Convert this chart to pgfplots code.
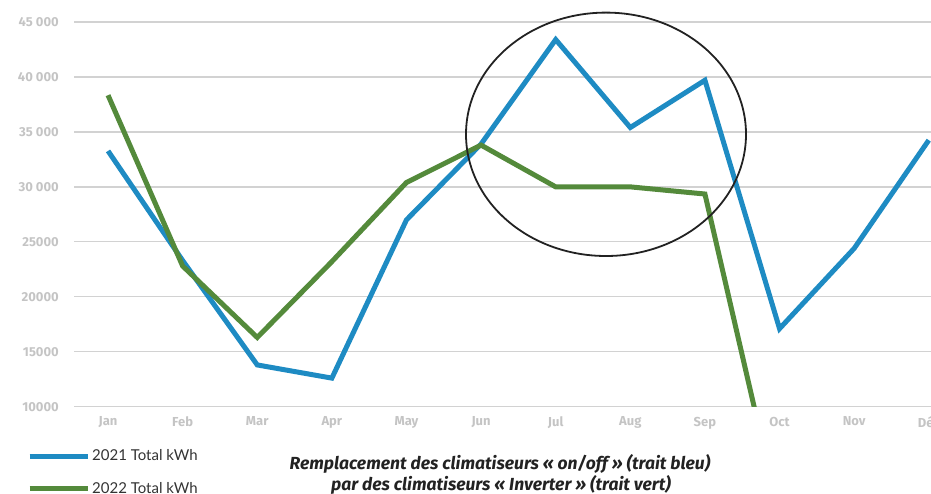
\documentclass[border=0pt]{standalone}
\usepackage{fontspec}
\setmainfont{Fira Sans}
\newfontfamily\legfont{Lato}
\usepackage{pgfplots}
\pgfplotsset{compat=1.18}
\definecolor{cblue}{HTML}{1E8BC3}
\definecolor{cgreen}{HTML}{548A3B}
\definecolor{tickgray}{HTML}{C4C4C4}
\definecolor{gridgray}{HTML}{D2D2D2}
\definecolor{legtext}{HTML}{333333}
\definecolor{captext}{HTML}{222222}
\begin{document}
\begin{tikzpicture}
\useasboundingbox (0pt,0pt) rectangle (931pt,493pt);
\begin{axis}[
  at={(74pt,86.3pt)}, anchor=south west,
  scale only axis, width=857pt, height=384.7pt,
  xmin=-0.456, xmax=11.03, ymin=10000, ymax=45000,
  scaled y ticks=false,
  axis line style={draw=none},
  major tick length=0pt,
  ytick={10000,15000,20000,25000,30000,35000,40000,45000},
  yticklabels={10000,15000,20000,25000,{30 000},{35 000},{40 000},{45 000}},
  xtick={0,1,2,3,4,5,6,7,8,9,10,11},
  xticklabels={Jan,Feb,Mar,Apr,May,Jun,Jul,Aug,Sep,Oct,Nov,Déc},
  ymajorgrids, grid style={gridgray, line width=1.3pt},
  tick label style={font=\fontsize{13}{15}\selectfont\bfseries, text=tickgray},
  yticklabel style={anchor=east, inner sep=0pt, xshift=-15pt},
  xticklabel style={anchor=north, inner sep=0pt, yshift=-10pt},
  /pgf/number format/assume math mode=true,
  legend style={at={(axis description cs:0,0)}, anchor=north west, xshift=-47pt, yshift=-41pt,
    draw=none, fill=none, inner sep=0pt, row sep=16pt,
    font=\legfont\fontsize{15}{17}\selectfont, text=legtext},
  legend cell align=left,
  legend image code/.code={\draw[#1] (0pt,0pt) -- (58pt,0pt);},
]
\addplot[cblue, line width=5pt] coordinates {
  (0,33270) (1,23300) (2,13800) (3,12600) (4,27000) (5,33900)
  (6,43400) (7,35400) (8,39700) (9,17100) (10,24400) (11,34250)};
\addlegendentry{2021 Total kWh}
\addplot[cgreen, line width=5pt] coordinates {
  (0,38340) (1,22800) (2,16300) (3,23200) (4,30400) (5,33800)
  (6,30000) (7,30000) (8,29350) (9,0)};
\addlegendentry{2022 Total kWh}
\end{axis}
\draw[captext, line width=1.8pt] (606pt,358.7pt) ellipse [x radius=140pt, y radius=121.7pt];
\node[anchor=base, inner sep=0pt, text=captext, font=\fontsize{17.5}{20}\selectfont\bfseries\itshape] at (500pt,24pt) {Remplacement des climatiseurs «~on/off~» (trait bleu)};
\node[anchor=base, inner sep=0pt, text=captext, font=\fontsize{17.5}{20}\selectfont\bfseries\itshape] at (501pt,3pt) {par des climatiseurs «~Inverter~» (trait vert)};
\end{tikzpicture}
\end{document}
